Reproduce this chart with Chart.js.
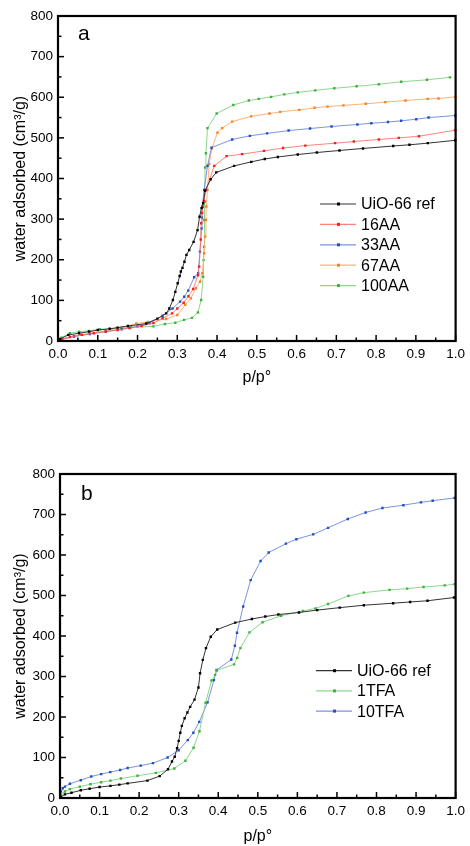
<!DOCTYPE html>
<html>
<head>
<meta charset="utf-8">
<script src="https://cdn.jsdelivr.net/npm/chart.js@4/dist/chart.umd.min.js"></script>
<style>
  html, body { margin: 0; padding: 0; background: #fff; }
  canvas { display: block; }
</style>
</head>
<body>
<canvas id="chartA" width="470" height="387"></canvas>
<canvas id="chartB" width="470" height="459"></canvas>
<script>
// ---- panel a ----
const refA_p = [0.005,0.026,0.053,0.078,0.10,0.13,0.15,0.176,0.222,0.25,0.272,0.28,0.289,0.295,0.301,0.306,0.309,0.313,0.318,0.323,0.33,0.341,0.351,0.356,0.361,0.365,0.37,0.384,0.398,0.443,0.486,0.52,0.553,0.603,0.651,0.708,0.767,0.843,0.884,0.93,0.999];
const refA_v = [5,15,19,23,27,30,33,37,43,55,68,80,101,121,142,160,171,180,195,212,224,244,273,306,327,339,370,398,415,431,441,448,453,459,464,469,474,480,483,487,494];

const aa16_p = [0.01,0.03,0.06,0.09,0.12,0.15,0.18,0.21,0.24,0.263,0.287,0.30,0.316,0.328,0.34,0.352,0.355,0.359,0.36,0.362,0.364,0.367,0.372,0.393,0.424,0.463,0.518,0.566,0.622,0.697,0.744,0.807,0.857,0.908,0.999];
const aa16_v = [4,10,15,19,23,27,32,37,44,56,68,80,94,110,128,162,183,250,290,315,330,345,372,431,455,460,468,475,481,487,491,496,500,504,519];

const aa33_p = [0.01,0.04,0.08,0.12,0.16,0.2,0.23,0.263,0.288,0.307,0.3175,0.3275,0.3425,0.3525,0.357,0.361,0.362,0.363,0.3675,0.376,0.386,0.438,0.4825,0.526,0.58,0.634,0.688,0.753,0.788,0.83,0.863,0.901,0.932,0.999];
const aa33_v = [4,11,17,23,29,36,44,62,80,97,109,124,157,167,220,277,304,331,372,431,476,496,505,511,518,523,528,533,536,539,542,546,550,555];

const aa67_p = [0.01,0.04,0.08,0.12,0.16,0.197,0.226,0.272,0.30,0.32,0.334,0.347,0.357,0.363,0.3675,0.37,0.372,0.373,0.376,0.38,0.387,0.401,0.413,0.438,0.486,0.532,0.559,0.607,0.645,0.678,0.718,0.774,0.823,0.874,0.93,0.957,0.999];
const aa67_v = [5,12,19,25,33,43,47,54,64,89,105,130,146,167,216,257,298,331,372,436,474,513,524,540,553,560,564,569,574,577,580,584,588,592,596,597,601];

const aa100_p = [0.002,0.009,0.03,0.053,0.078,0.105,0.148,0.184,0.24,0.269,0.295,0.317,0.337,0.352,0.36,0.365,0.366,0.3675,0.368,0.369,0.370,0.372,0.376,0.399,0.441,0.48,0.505,0.536,0.569,0.603,0.647,0.695,0.751,0.807,0.863,0.928,0.986];
const aa100_v = [3,8,19,23,25,29,31,34,36,42,45,52,57,70,101,158,199,232,298,343,427,462,524,560,581,592,596,601,607,612,617,622,627,632,638,643,649];

// ---- panel b ----
const refB_p = [0.0025,0.0125,0.029,0.0525,0.075,0.1,0.1275,0.15,0.171,0.221,0.252,0.273,0.283,0.29,0.296,0.3,0.304,0.308,0.315,0.322,0.329,0.34,0.35,0.354,0.361,0.369,0.381,0.3975,0.443,0.485,0.519,0.552,0.604,0.65,0.707,0.768,0.842,0.885,0.929,0.996];
const refB_v = [3,9,13,19,23,27,30,33,36,43,54,71,90,102,123,141,161,178,197,211,225,243,273,308,341,370,398,416,433,442,448,453,458,464,470,476,481,484,487,495];

const tfa1_p = [0.0025,0.0125,0.025,0.05,0.077,0.104,0.1275,0.154,0.196,0.242,0.289,0.317,0.3375,0.3525,0.368,0.383,0.392,0.396,0.44,0.448,0.456,0.479,0.512,0.559,0.614,0.646,0.6775,0.729,0.768,0.833,0.8775,0.919,0.9725,0.9975];
const tfa1_v = [9,16,22,28,34,39,43,48,55,62,73,92,124,165,235,290,304,315,330,346,370,409,434,450,462,468,479,499,507,514,517,521,525,528];

const tfa10_p = [0.0025,0.007,0.0125,0.025,0.0525,0.079,0.104,0.127,0.152,0.171,0.204,0.235,0.272,0.3,0.323,0.337,0.352,0.373,0.389,0.396,0.433,0.442,0.4475,0.463,0.482,0.507,0.5275,0.571,0.5975,0.64,0.6775,0.7275,0.7725,0.815,0.868,0.9125,0.942,0.9975];
const tfa10_v = [16,24,28,35,44,53,59,64,69,74,80,86,100,118,143,161,188,236,291,316,342,376,408,473,538,585,606,628,639,651,667,689,705,716,723,730,734,741];

const xTicks = [0, 0.1, 0.2, 0.3, 0.4, 0.5, 0.6, 0.7, 0.8, 0.9, 1.0];
const yTicks = [0, 100, 200, 300, 400, 500, 600, 700, 800];

Chart.defaults.font.family = '"Liberation Sans", Arial, sans-serif';
Chart.defaults.color = '#000';

function series(label, xs, ys, pointColor, lineColor) {
    return {
        label: label,
        data: xs.map(function (x, i) { return { x: x, y: ys[i] }; }),
        borderColor: lineColor,
        backgroundColor: pointColor,
        pointBackgroundColor: pointColor,
        pointBorderColor: pointColor,
        pointBorderWidth: 0,
        pointStyle: 'rect',
        pointRadius: 1.7,
        borderWidth: 1,
        tension: 0,
        clip: 4
    };
}

// frame, inward ticks, panel letter and legend inside the plot
const framePlugin = {
    id: 'frame',
    afterDraw: function (chart, args, opts) {
        const ctx = chart.ctx;
        const a = chart.chartArea;
        const xs = chart.scales.x, ys = chart.scales.y;
        ctx.save();
        ctx.strokeStyle = '#000';
        ctx.lineWidth = 1.5;
        let i;
        for (i = 0; i <= 20; i++) {
            const px = xs.getPixelForValue(i * 0.05);
            const len = i % 2 === 0 ? 6 : 3.5;
            ctx.beginPath();
            ctx.moveTo(px, a.bottom);
            ctx.lineTo(px, a.bottom - len);
            ctx.stroke();
        }
        for (i = 0; i <= 16; i++) {
            const py = ys.getPixelForValue(i * 50);
            const len = i % 2 === 0 ? 6 : 3.5;
            ctx.beginPath();
            ctx.moveTo(a.left, py);
            ctx.lineTo(a.left + len, py);
            ctx.stroke();
        }
        ctx.lineWidth = 2.2;
        ctx.strokeRect(a.left, a.top, a.right - a.left, a.bottom - a.top);

        // panel letter
        ctx.fillStyle = '#000';
        ctx.font = '21px "Liberation Sans", Arial, sans-serif';
        ctx.textBaseline = 'alphabetic';
        ctx.textAlign = 'left';
        ctx.fillText(opts.letter, a.left + opts.letterX, a.top + opts.letterY);

        // legend
        ctx.font = '16px "Liberation Sans", Arial, sans-serif';
        ctx.textBaseline = 'middle';
        chart.data.datasets.forEach(function (ds, k) {
            const lx = a.left + opts.legX;
            const ly = a.top + opts.legY + k * opts.legRow;
            ctx.strokeStyle = ds.borderColor;
            ctx.lineWidth = 1.2;
            ctx.beginPath();
            ctx.moveTo(lx, ly);
            ctx.lineTo(lx + 36, ly);
            ctx.stroke();
            ctx.fillStyle = ds.pointBackgroundColor;
            ctx.fillRect(lx + 17, ly - 1.5, 3, 3);
            ctx.fillStyle = '#000';
            ctx.fillText(ds.label, lx + 41, ly + 1);
        });
        ctx.restore();
    }
};

function makeOptions(pad, xHeight, yWidth, frameOpts) {
    return {
        responsive: false,
        animation: false,
        layout: { padding: pad },
        plugins: {
            legend: { display: false },
            tooltip: { enabled: false },
            frame: frameOpts
        },
        scales: {
            x: {
                type: 'linear',
                min: 0,
                max: 1,
                afterFit: function (s) { s.height = xHeight; },
                afterBuildTicks: function (s) { s.ticks = xTicks.map(function (v) { return { value: v }; }); },
                grid: { display: false, drawTicks: false },
                border: { display: false },
                ticks: {
                    padding: 5,
                    maxRotation: 0,
                    font: { size: 13.5 },
                    callback: function (v) { return v.toFixed(1); }
                },
                title: {
                    display: true,
                    text: 'p/p°',
                    font: { size: 16 },
                    padding: 0
                }
            },
            y: {
                type: 'linear',
                min: 0,
                max: 800,
                afterFit: function (s) { s.width = yWidth; },
                afterBuildTicks: function (s) { s.ticks = yTicks.map(function (v) { return { value: v }; }); },
                grid: { display: false, drawTicks: false },
                border: { display: false },
                ticks: {
                    padding: 5,
                    font: { size: 13.5 }
                },
                title: {
                    display: true,
                    text: 'water adsorbed (cm³/g)',
                    font: { size: 16 },
                    padding: 0
                }
            }
        }
    };
}

new Chart(document.getElementById('chartA'), {
    type: 'line',
    data: {
        datasets: [
            series('UiO-66 ref', refA_p, refA_v, '#000000', '#333333'),
            series('16AA', aa16_p, aa16_v, '#ff1a1a', 'rgba(255,110,100,0.85)'),
            series('33AA', aa33_p, aa33_v, '#1f4fc0', 'rgba(110,135,220,0.9)'),
            series('67AA', aa67_p, aa67_v, '#ff7f1e', 'rgba(255,170,110,0.9)'),
            series('100AA', aa100_p, aa100_v, '#3cb43c', 'rgba(130,210,130,0.9)')
        ]
    },
    options: makeOptions({ top: 16, left: 11, right: 12, bottom: 0 }, 46, 47,
        { letter: 'a', letterX: 20, letterY: 24, legX: 262, legY: 188, legRow: 20.4 }),
    plugins: [framePlugin]
});

new Chart(document.getElementById('chartB'), {
    type: 'line',
    data: {
        datasets: [
            series('UiO-66 ref', refB_p, refB_v, '#000000', '#333333'),
            series('1TFA', tfa1_p, tfa1_v, '#3cb43c', 'rgba(130,210,130,0.9)'),
            series('10TFA', tfa10_p, tfa10_v, '#1f4fc0', 'rgba(110,135,220,0.9)')
        ]
    },
    options: makeOptions({ top: 87, left: 11, right: 10, bottom: 0 }, 48, 49,
        { letter: 'b', letterX: 21, letterY: 26, legX: 256, legY: 196.7, legRow: 20.2 }),
    plugins: [framePlugin]
});
</script>
</body>
</html>
